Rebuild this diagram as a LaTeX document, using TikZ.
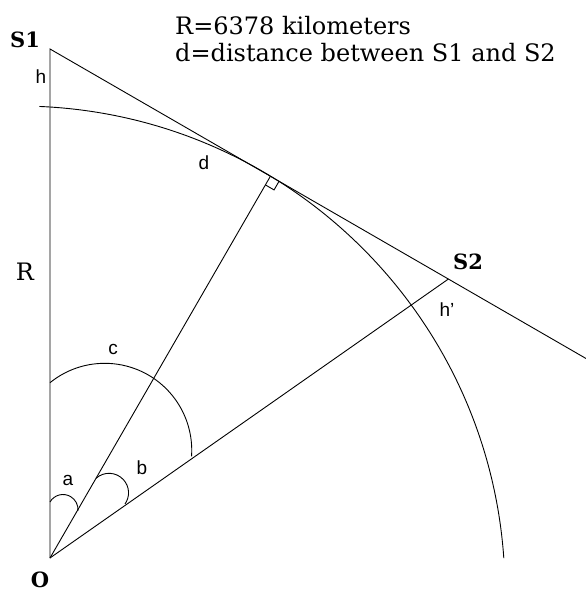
\documentclass[tikz,border=0pt]{standalone}
\usepackage{fontspec}
\setmainfont{DejaVu Serif}
\newfontfamily\lblfont{Liberation Sans}
\usetikzlibrary{calc}
\tikzset{
	geo/.style={line width=0.9pt},
	title/.style={anchor=base west,inner sep=0pt,font=\fontsize{24}{28}\selectfont},
	pointlbl/.style={inner sep=0pt,font=\bfseries\fontsize{21}{24}\selectfont},
	anglelbl/.style={inner sep=0pt,font=\lblfont\fontsize{19}{21}\selectfont}
}
\begin{document}
\begin{tikzpicture}[x=1pt,y=1pt]
		\useasboundingbox (-50,-34) rectangle (536,558);
	
		\coordinate (O) at (0,0);
		\coordinate (S1) at (0,509);
		\coordinate (T) at (60:440.8);
		\coordinate (S2) at (35:486.4);
		\coordinate (tanend) at (536,199.5);
		\coordinate (earthc) at (-31,-34);
		
		\node[title] (radius) at (125,523) {R=6378 kilometers};
		\node[title] (dist) at (125,496) {d=distance between S1 and S2};
		
		\draw[geo] (O) -- (S1) -- (tanend);
		\draw[geo] (O) -- (T);
		\draw[geo] (O) -- (S2);
		
		\draw[geo] (earthc) ++(87.6:486) arc[start angle=87.6,end angle=4,radius=486];
		
		\draw[geo] ($(T)+(240:10)$) -- ++(-30:10) -- ($(T)+(-30:10)$);
		
		\draw[geo] (0,56) arc[start angle=150,end angle=-5,radius=15];
		\draw[geo] (60:92) arc[start angle=132,end angle=-35,radius=19.5];
		\draw[geo] (0,175.3) arc[start angle=129,end angle=-4,radius=87];
		
		\node[pointlbl] (s1lbl) at (-25,518) {S1};
		\node[pointlbl] (s2lbl) at (418,296) {S2};
		\node[pointlbl] (olbl) at (-10,-22) {O};
		\node[inner sep=0pt,font=\fontsize{24}{28}\selectfont] (rlbl) at (-25,286) {R};
		
		\node[anglelbl] (hlbl) at (-9,481) {h};
		\node[anglelbl] (hplbl) at (397,248) {h’};
		\node[anglelbl] (dlbl) at (154,395) {d};
		\node[anglelbl] (albl) at (18,78) {a};
		\node[anglelbl] (blbl) at (92,90) {b};
		\node[anglelbl] (clbl) at (63,209) {c};
	\end{tikzpicture}
\end{document}
